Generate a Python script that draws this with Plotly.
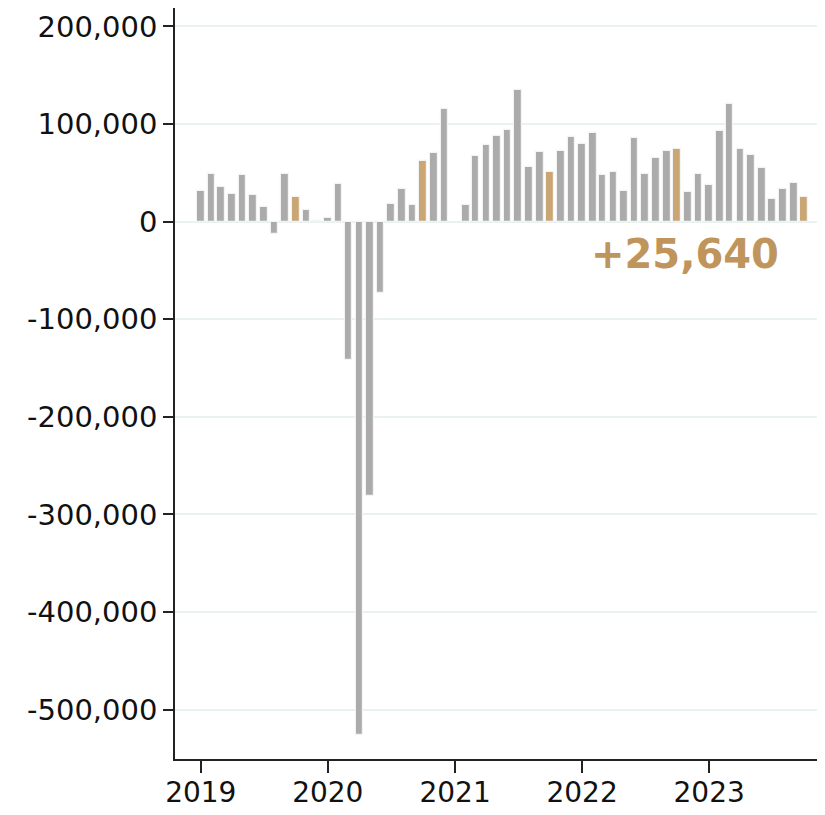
import plotly.graph_objects as go
import pandas as pd

# Monthly change values, Jan 2019 .. Oct 2023 (None = no data)
months = pd.date_range("2019-01-01", "2023-10-01", freq="MS")
values = [
    # 2019
    31800, 48500, 35900, 28700, 47500, 27000, 15000, -12600, 49200, 25600, 11700, 1000,
    # 2020
    4100, 38900, -142000, -526000, -281000, -73500, 18400, 33200, 17100, 62200, 70700, 115200,
    # 2021
    None, 16800, 67300, 78900, 87800, 94300, 134900, 55700, 71700, 50900, 72100, 86500,
    # 2022
    79900, 91200, 47500, 50900, 31800, 85400, 48900, 65300, 72400, 74500, 30400, 48500,
    # 2023
    37900, 93200, 120300, 74200, 68700, 54700, 23600, 33800, 39300, 25640,
]
highlight_month = 10
latest_label = "+25,640"

y_tickvals = [200000, 100000, 0, -100000, -200000, -300000, -400000, -500000]
y_ticktext = ["200,000", "100,000", "0", "-100,000", "-200,000", "-300,000", "-400,000", "-500,000"]
x_tickvals = ["2019-01-01", "2020-01-01", "2021-01-01", "2022-01-01", "2023-01-01"]
x_ticktext = ["2019", "2020", "2021", "2022", "2023"]

GRAY = "#ababab"
TAN = "#c9a674"
colors = [TAN if m.month == highlight_month else GRAY for m in months]

FONT = "DejaVu Sans"

fig = go.Figure()
fig.add_trace(go.Bar(
    x=months, y=values,
    marker=dict(color=colors, line=dict(color="#f3f3f3", width=1.2)),
    width=22 * 24 * 3600 * 1000,
    hoverinfo="x+y",
))

fig.add_annotation(
    x="2022-10-24", xref="x", y=-33000, yref="y",
    xanchor="center", yanchor="middle",
    text=latest_label, showarrow=False,
    font=dict(family=FONT, size=40, color="#bf955c", weight="bold"),
)

fig.update_layout(
    width=809, height=799,
    margin=dict(l=167, r=0, t=0, b=48),
    plot_bgcolor="white", paper_bgcolor="white",
    showlegend=False,
    font=dict(family=FONT, size=28, color="#111111"),
    bargap=0,
)
fig.update_xaxes(
    type="date",
    range=["2018-10-19", "2023-11-07"],
    tickvals=x_tickvals, ticktext=x_ticktext,
    showgrid=False, zeroline=False,
    showline=True, linecolor="#222222", linewidth=1.5,
    ticks="outside", ticklen=12, tickwidth=1.5, tickcolor="#222222",
    tickfont=dict(family=FONT, size=28, color="#111111"),
    ticklabelstandoff=-4,
    automargin=False,
)
fig.update_yaxes(
    range=[-550500, 218900],
    tickvals=y_tickvals, ticktext=y_ticktext,
    showgrid=True, gridcolor="#e9f1f1", gridwidth=2,
    zeroline=False,
    showline=True, linecolor="#222222", linewidth=1.5,
    ticks="outside", ticklen=10, tickwidth=1.5, tickcolor="#222222",
    tickfont=dict(family=FONT, size=29, color="#111111"),
    automargin=False,
)

fig.write_html("out.html")
